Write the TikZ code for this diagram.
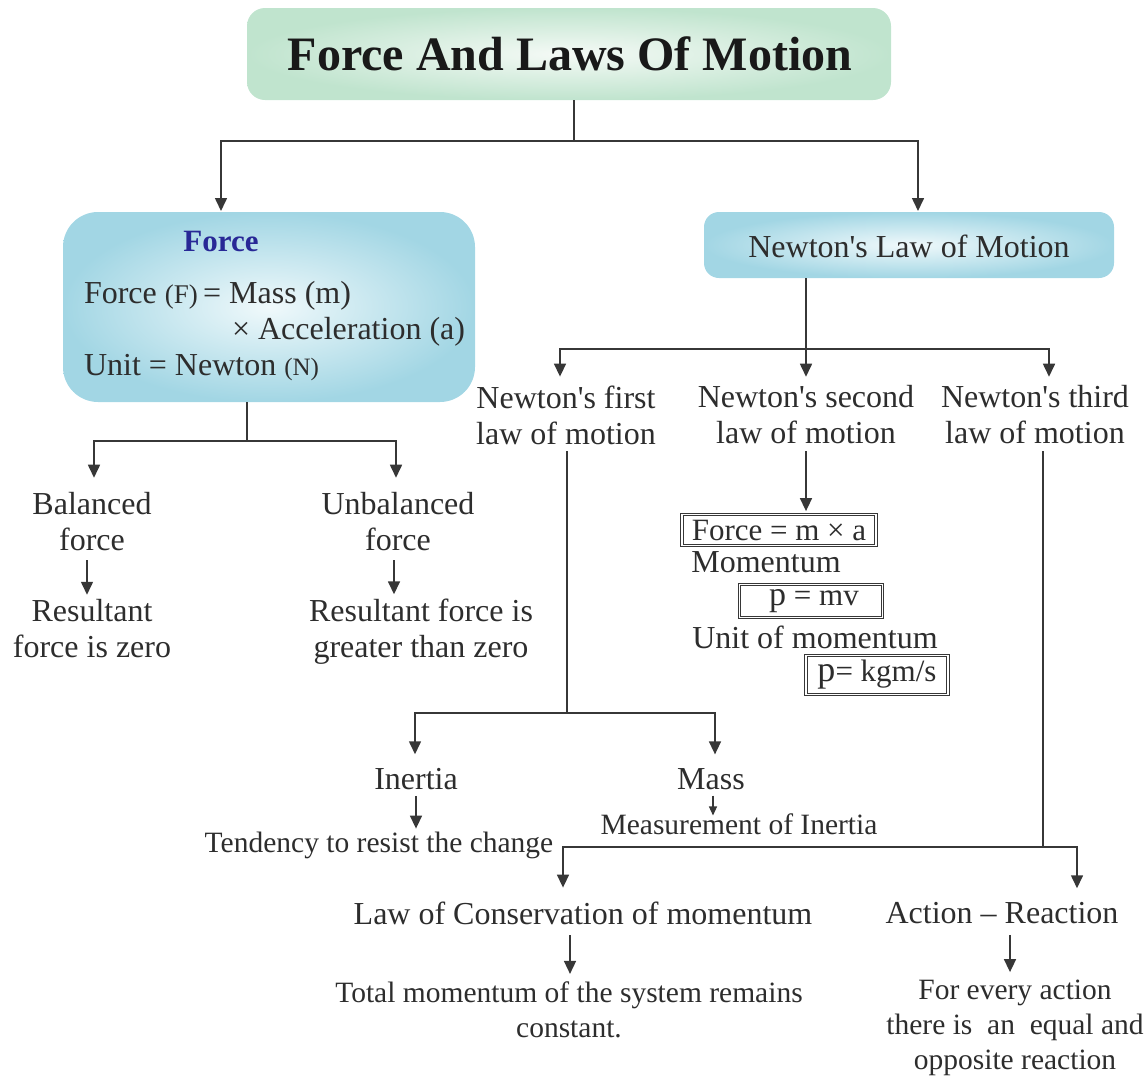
\documentclass[tikz,border=0pt]{standalone}
\usepackage{fontspec}
\setmainfont{Liberation Serif}
\usetikzlibrary{arrows.meta,calc}
\definecolor{txt}{RGB}{45,45,45}
\definecolor{ln}{RGB}{55,55,55}
\definecolor{grn}{RGB}{192,228,206}
\definecolor{grnin}{RGB}{245,250,246}
\definecolor{cyn}{RGB}{162,214,228}
\definecolor{cynin}{RGB}{240,249,251}
\definecolor{fblue}{RGB}{40,40,150}
\newcommand{\apos}{\textquotesingle}
\begin{document}
\begin{tikzpicture}[x=1pt,y=-1pt,
  lbl/.style={text=txt, font=\fontsize{32}{36}\selectfont, align=center, inner sep=0pt, outer sep=0pt},
  slbl/.style={lbl, font=\fontsize{29.5}{35}\selectfont},
  con/.style={draw=ln, line width=1.6pt},
  arr/.style={con, -{Triangle[width=12pt,length=13pt]}},
  sarr/.style={con, line width=1.2pt, -{Triangle[width=8pt,length=9pt]}},
  dbox/.style={draw=ln, double=white, double distance=1.6pt, line width=0.8pt, inner sep=0pt,
     text=txt, font=\fontsize{31}{36}\selectfont},
  shbox/.style={inner sep=0pt, outer sep=0pt}
]
\useasboundingbox (0,0) rectangle (1148,1079);

% ---------- title ----------
\node[shbox, rounded corners=18pt, minimum width=644pt, minimum height=92pt,
      inner color=grnin, outer color=grn] (title) at (569,54) {};
\node[text={rgb,255:red,25;green,25;blue,25}, font=\fontsize{48}{54}\selectfont\bfseries] (ttl) at (570,54) {Force And Laws Of Motion};

% ---------- force box ----------
\node[shbox, rounded corners=35pt, minimum width=412pt, minimum height=190pt,
      inner color=cynin, outer color=cyn] (force) at (269,307) {};
\node[text=fblue, font=\fontsize{31}{36}\selectfont\bfseries, inner sep=0pt] (fhead) at (221,241) {Force};
\node[lbl, anchor=base west] (fl1) at (84,303) {Force {\fontsize{27}{30}\selectfont(F)}\,= Mass (m)};
\node[lbl, anchor=base west] (fl2) at (232,339) {× Acceleration (a)};
\node[lbl, anchor=base west] (fl3) at (84,375) {Unit = Newton {\fontsize{25}{30}\selectfont(N)}};

% ---------- newton box ----------
\node[shbox, rounded corners=15pt, minimum width=410pt, minimum height=66pt,
      inner color=cynin, outer color=cyn] (newton) at (909,245) {};
\node[lbl] (ntext) at (909,246) {Newton\apos s Law of Motion};

% ---------- text nodes ----------
\node[lbl] (bal)  at (92,522)  {Balanced\\force};
\node[lbl] (balr) at (92,629)  {Resultant\\force is zero};
\node[lbl] (unb)  at (398,522) {Unbalanced\\force};
\node[lbl] (unbr) at (421,632) {Resultant force is\\greater than zero};

\node[lbl] (n1) at (566,415)  {Newton\apos s first\\law of motion};
\node[lbl] (n2) at (806,415)  {Newton\apos s second\\law of motion};
\node[lbl] (n3) at (1035,415) {Newton\apos s third\\law of motion};

\node[dbox, minimum width=194pt, minimum height=31pt] (fbox) at (779,530) {Force = m × a};
\node[lbl] (mom) at (766,562) {Momentum};
\node[dbox, minimum width=143pt, minimum height=33pt] (pbox) at (811,601) {\hspace*{6pt}{\fontsize{34}{36}\selectfont p} = mv};
\node[lbl] (unitm) at (815,637) {Unit of momentum};
\node[dbox, minimum width=142pt, minimum height=39pt] (kbox) at (877,675) {{\fontsize{36}{36}\selectfont p}= kgm/s};

\node[lbl] (inertia) at (416,779) {Inertia};
\node[slbl] (tend) at (379,845) {Tendency to resist the change};
\node[lbl] (mass) at (711,779) {Mass};
\node[slbl] (meas) at (739,824) {Measurement of Inertia};

\node[lbl] (cons) at (583,913) {Law of Conservation of momentum};
\node[slbl] (total) at (569,1010) {Total momentum of the system remains\\constant.};
\node[lbl] (act) at (1002,913) {Action -- Reaction};
\node[slbl] (every) at (1015,1028) {For every action\\there is \ an \ equal and\\opposite reaction};

% ---------- junctions ----------
\coordinate (tj) at (574,141);
\coordinate (fj) at (247,441);
\coordinate (nj) at (806,349);
\coordinate (j2) at (567,713);
\coordinate (j3) at (1043,847);

% ---------- connectors ----------
\draw[con] (title.south -| tj) -- (tj);
\draw[arr] (tj) -| ($(force.north -| fhead)+(0,-1)$);
\draw[arr] (tj) -| ($(newton.north)+(9,-1)$);

\draw[con] (force.south -| fj) -- (fj);
\draw[arr] (fj) -| ($(bal.north)+(2,-15)$);
\draw[arr] (fj) -| ($(unb.north)+(-2,-15)$);
\draw[arr] ($(bal.south)+(-5,9)$) -- ($(balr.north)+(-5,-5)$);
\draw[arr] ($(unb.south)+(-4,9)$) -- ($(unbr.north -| unb.south)+(-4,-5)$);

\draw[con] (newton.south -| nj) -- (nj);
\draw[arr] (nj) -| ($(n1.north)+(-6,-9)$);
\draw[arr] (nj) -- ($(n2.north)+(0,-9)$);
\draw[arr] (nj) -| ($(n3.north)+(14,-9)$);

\draw[arr] ($(n2.south)+(0,7)$) -- ($(fbox.north -| n2.south)+(0,-3)$);

\draw[con] ($(n1.south)+(1,7)$) -- (j2);
\draw[arr] (j2) -| ($(inertia.north)+(-1,-14)$);
\draw[arr] (j2) -| ($(mass.north)+(4,-14)$);
\draw[arr] ($(inertia.south)+(0,6)$) -- ($(tend.north -| inertia.south)+(0,-3)$);
\draw[sarr] ($(mass.south)+(2,6)$) -- ($(meas.north -| mass.south)+(2,2)$);

\draw[con] ($(n3.south)+(8,7)$) -- (j3);
\draw[arr] (j3) -| ($(cons.north)+(-20,-14)$);
\draw[arr] (j3) -| ($(act.north)+(75,-14)$);
\draw[arr] ($(cons.south -| total.north)+(1,11)$) -- ($(total.north)+(1,-8)$);
\draw[arr] ($(act.south)+(8,11)$) -- ($(every.north)+(-5,-8)$);
\end{tikzpicture}
\end{document}
